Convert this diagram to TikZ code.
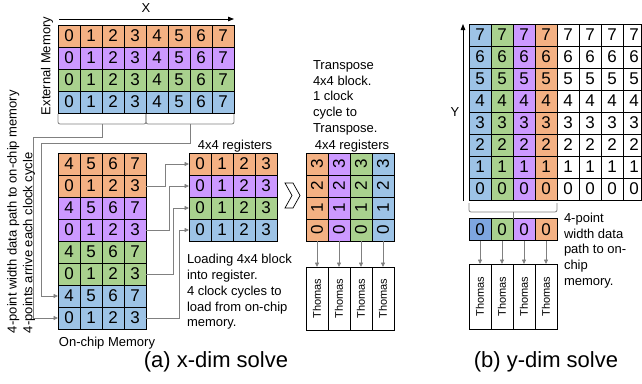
\documentclass[tikz,border=0pt]{standalone}
\usepackage{fontspec}
\setmainfont{Liberation Sans}
\usetikzlibrary{arrows.meta}
\definecolor{cor}{HTML}{F4B183}
\definecolor{cpu}{HTML}{CC99FF}
\definecolor{cgr}{HTML}{A9D18E}
\definecolor{cbl}{HTML}{9DC3E6}
\definecolor{cdb}{HTML}{7EA6E0}
\definecolor{lgray}{HTML}{808080}
\begin{document}
\begin{tikzpicture}[x=1pt,y=-1pt,
  every node/.style={inner sep=0pt, outer sep=0pt},
  cell/.style={draw=black, line width=0.8pt, minimum width=22pt, minimum height=22pt, font=\fontsize{17}{17}\selectfont},
  digit/.style={font=\fontsize{17}{17}\selectfont},
  conn/.style={draw=lgray, line width=0.8pt, -{Triangle[length=4.5pt,width=4pt]}},
  brace/.style={draw=lgray, line width=0.8pt, rounded corners=2pt},
  txt/.style={font=\fontsize{13}{15.7}\selectfont, align=left},
  thomas/.style={draw=black, line width=0.8pt, rotate=90, minimum height=22pt, font=\fontsize{11}{11}\selectfont},
  title/.style={font=\fontsize{22}{22}\selectfont},
  axis/.style={draw=black, line width=0.8pt, -{Triangle[length=6pt,width=4.5pt]}}
]
\useasboundingbox (0,0) rectangle (642,383);

% ---------- (a) external memory ----------
\foreach \r/\col in {0/cor,1/cpu,2/cgr,3/cbl}{
  \foreach \c in {0,...,7}{
    \node[cell, fill=\col] (ext-\r-\c) at ({69+22*\c},{36+22*\r}) {\c};
  }
}
\coordinate (xs) at (59,19);
\coordinate (xe) at (234,19);
\draw[axis] (xs) -- (xe);
\node[txt] (xl) at (146,8) {X};
\node[txt, rotate=90] (extl) at (47,66) {External Memory};

% braces
\draw[brace] (58,114) -- (58,124) -- (146,124) -- (146,114);
\draw[brace] (146,114) -- (146,124) -- (234,124) -- (234,114);
\coordinate (b1) at (102,124);
\coordinate (b2) at (190,124);

% ---------- on-chip memory ----------
\foreach \r/\col/\b in {0/cor/4,1/cor/0,2/cpu/4,3/cpu/0,4/cgr/4,5/cgr/0,6/cbl/4,7/cbl/0}{
  \foreach \c in {0,...,3}{
    \pgfmathtruncatemacro{\v}{\b+\c}
    \node[cell, fill=\col] (on-\r-\c) at ({69+22*\c},{164+22*\r}) {\v};
  }
}
\node[txt] (onl) at (107,343) {On-chip Memory};

\draw[conn] (b1) -- ++(0,13) -- ++(-69,0) |- (on-7-0.west);
\draw[conn] (b2) -- ++(0,19) -- ++(-149,0) |- (on-6-0.west);

\node[txt, rotate=90, anchor=north west] (lefttxt) at (7.2,333) {4-point width data path to on-chip memory\\4-points arrive each clock cycle};

% ---------- registers ----------
\foreach \r/\col in {0/cor,1/cpu,2/cgr,3/cbl}{
  \foreach \c in {0,...,3}{
    \node[cell, fill=\col] (reg-\r-\c) at ({200+22*\c},{164+22*\r}) {\c};
  }
}
\node[txt] (regl) at (235,146) {4x4 registers};
\draw[conn] (on-1-3.east) -- ++(19,0) |- (reg-0-0.west);
\draw[conn] (on-3-3.east) -- ++(23,0) |- (reg-1-0.west);
\draw[conn] (on-5-3.east) -- ++(27,0) |- (reg-2-0.west);
\draw[conn] (on-7-3.east) -- ++(33,0) |- (reg-3-0.west);
\node[txt, anchor=north west] (loadl) at (187,254.5) {Loading 4x4 block\\into register.\\4 clock cycles to\\load from on-chip\\memory.};

% chevron
\draw[line width=0.7pt, fill=white] (285,183) -- (293,183) -- (300,195.5) -- (293,208) -- (285,208) -- (292,195.5) -- cycle;

% ---------- transposed registers ----------
\foreach \c/\col in {0/cor,1/cpu,2/cgr,3/cbl}{
  \foreach \r in {0,...,3}{
    \pgfmathtruncatemacro{\v}{3-\r}
    \node[cell, fill=\col] (tr-\r-\c) at ({317+22*\c},{164+22*\r}) {};
    \node[digit, rotate=90] at (tr-\r-\c.center) {\v};
  }
}
\node[txt] (trl) at (352,146) {4x4 registers};
\node[txt, anchor=north west] (transl) at (313,60.5) {Transpose\\4x4 block.\\1 clock\\cycle to\\Transpose.};
\foreach \c in {0,...,3}{
  \node[thomas, minimum width=63pt] (tx-\c) at ({317+22*\c},298.5) {Thomas};
  \draw[conn] (tr-3-\c.south) -- (tx-\c.east);
}
\node[title] (ta) at (216,362) {(a) x-dim solve};

% ---------- (b) y-dim ----------
\foreach \c/\col in {0/cbl,1/cgr,2/cpu,3/cor,4/white,5/white,6/white}{
  \foreach \r in {0,...,7}{
    \pgfmathtruncatemacro{\v}{7-\r}
    \node[cell, fill=\col] (yg-\r-\c) at ({480+22*\c},{35+22*\r}) {\v};
  }
}
\foreach \r in {0,...,7}{
  \pgfmathtruncatemacro{\v}{7-\r}
  \node[cell, fill=white, minimum width=18pt] (yg-\r-7) at (632,{35+22*\r}) {};
  \node[digit] at (634,{35+22*\r}) {\v};
}
\coordinate (ys) at (463,201);
\coordinate (ye) at (463,24);
\draw[axis] (ys) -- (ye);
\node[txt] (yl) at (455,112) {Y};

\draw[brace] (469,203) -- (469,212) -- (557,212) -- (557,203);
\foreach \c/\col in {0/cdb,1/cgr,2/cpu,3/cor}{
  \node[cell, fill=\col] (ysr-\c) at ({480+22*\c},229.5) {0};
}
\draw[brace] (513,212) -- (ysr-1.north east);
\foreach \c in {0,...,3}{
  \node[thomas, minimum width=65pt] (ty-\c) at ({480+22*\c},296.5) {Thomas};
  \draw[conn] (ysr-\c.south) -- (ty-\c.east);
}
\node[txt, anchor=north west] (ptl) at (564,213) {4-point\\width data\\path to on-\\chip\\memory.};
\node[title] (tb) at (546,362) {(b) y-dim solve};
\end{tikzpicture}
\end{document}
